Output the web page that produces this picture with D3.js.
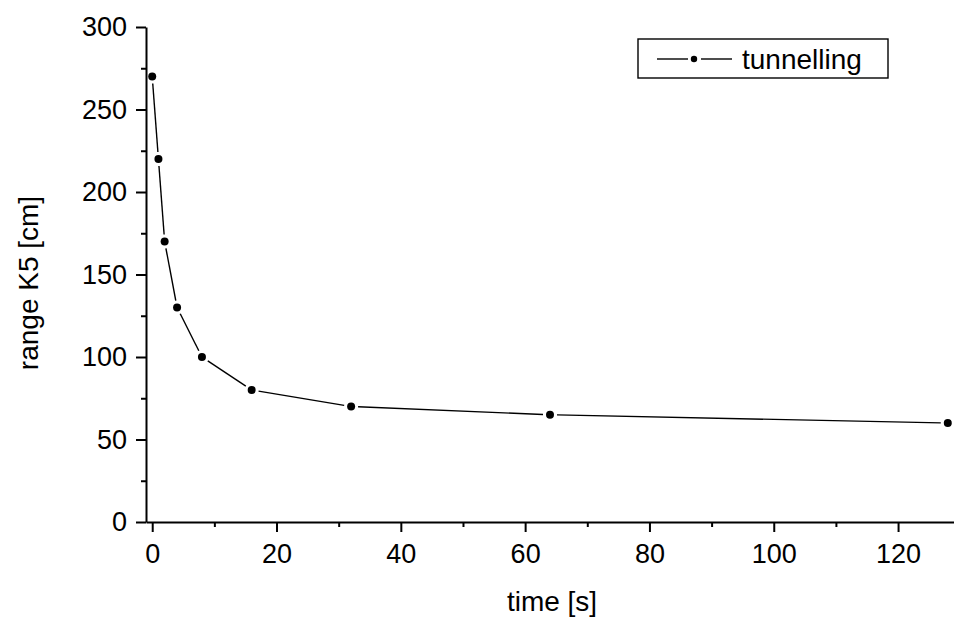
<!DOCTYPE html>
<html>
<head>
<meta charset="utf-8">
<script src="https://cdn.jsdelivr.net/npm/d3@7"></script>
<style>
  body { margin: 0; background: #fff; }
  svg { display: block; font-family: "Liberation Sans", Arial, sans-serif; }
  .axis path, .axis line { stroke: #000; stroke-width: 2; }
  .axis text { font-size: 27px; fill: #000; font-family: "Liberation Sans", Arial, sans-serif; }
</style>
</head>
<body>
<div id="chart"></div>
<script>
const times = [0, 1, 2, 4, 8, 16, 32, 64, 128];
const ranges = [270, 220, 170, 130, 100, 80, 70, 65, 60];
const seriesName = "tunnelling";
const xTicks = [0, 20, 40, 60, 80, 100, 120];
const yTicks = [0, 50, 100, 150, 200, 250, 300];

const width = 954, height = 617;
const margin = { top: 27, right: 0, bottom: 95, left: 146 };

const svg = d3.select("#chart").append("svg")
  .attr("width", width)
  .attr("height", height);

const x = d3.scaleLinear().domain([-1, 129]).range([margin.left, width - margin.right]);
const y = d3.scaleLinear().domain([0, 300]).range([height - margin.bottom, margin.top]);

// minor ticks
const xMinor = d3.range(10, 130, 20);
const yMinor = d3.range(25, 300, 50);

svg.append("g").attr("class", "axis")
  .attr("transform", `translate(0,${y(0)})`)
  .call(d3.axisBottom(x).tickValues(xMinor).tickSize(5).tickFormat(""))
  .call(g => g.select(".domain").remove());

svg.append("g").attr("class", "axis")
  .attr("transform", `translate(${x(-1)},0)`)
  .call(d3.axisLeft(y).tickValues(yMinor).tickSize(5).tickFormat(""))
  .call(g => g.select(".domain").remove());

svg.append("g").attr("class", "axis")
  .attr("transform", `translate(0,${y(0)})`)
  .call(d3.axisBottom(x).tickValues(xTicks).tickSize(10).tickSizeOuter(0).tickPadding(12));

svg.append("g").attr("class", "axis")
  .attr("transform", `translate(${x(-1)},0)`)
  .call(d3.axisLeft(y).tickValues(yTicks).tickSize(10).tickSizeOuter(0).tickPadding(9));

// axis titles
svg.append("text")
  .attr("x", 552).attr("y", 611)
  .attr("text-anchor", "middle")
  .attr("font-size", 28)
  .text("time [s]");

svg.append("text")
  .attr("transform", "translate(38,283) rotate(-90)")
  .attr("text-anchor", "middle")
  .attr("font-size", 28)
  .text("range K5 [cm]");

// line segments with gaps around the markers
const pts = times.map((t, i) => [x(t), y(ranges[i])]);
const gap = 7;
const segs = d3.pairs(pts).map(([a, b]) => {
  const dx = b[0] - a[0], dy = b[1] - a[1];
  const len = Math.hypot(dx, dy);
  const ux = dx / len, uy = dy / len;
  return [a[0] + ux * gap, a[1] + uy * gap, b[0] - ux * gap, b[1] - uy * gap];
});

svg.append("g").selectAll("line")
  .data(segs)
  .enter()
  .append("line")
  .attr("x1", d => d[0]).attr("y1", d => d[1])
  .attr("x2", d => d[2]).attr("y2", d => d[3])
  .attr("stroke", "#000")
  .attr("stroke-width", 1.4);

svg.append("g").selectAll("circle")
  .data(times)
  .enter()
  .append("circle")
  .attr("cx", d => x(d))
  .attr("cy", (d, i) => y(ranges[i]))
  .attr("r", 4)
  .attr("fill", "#000");

// legend
const lg = svg.append("g").attr("transform", "translate(638,39)");
lg.append("rect")
  .attr("width", 250).attr("height", 39)
  .attr("fill", "#fff").attr("stroke", "#000").attr("stroke-width", 1.4);
lg.append("line").attr("x1", 19).attr("x2", 50).attr("y1", 20).attr("y2", 20)
  .attr("stroke", "#000").attr("stroke-width", 1.4);
lg.append("line").attr("x1", 63).attr("x2", 94).attr("y1", 20).attr("y2", 20)
  .attr("stroke", "#000").attr("stroke-width", 1.4);
lg.append("circle").attr("cx", 56).attr("cy", 20).attr("r", 3.2).attr("fill", "#000");
lg.append("text")
  .attr("x", 104).attr("y", 30)
  .attr("font-size", 28)
  .text(seriesName);
</script>
</body>
</html>
